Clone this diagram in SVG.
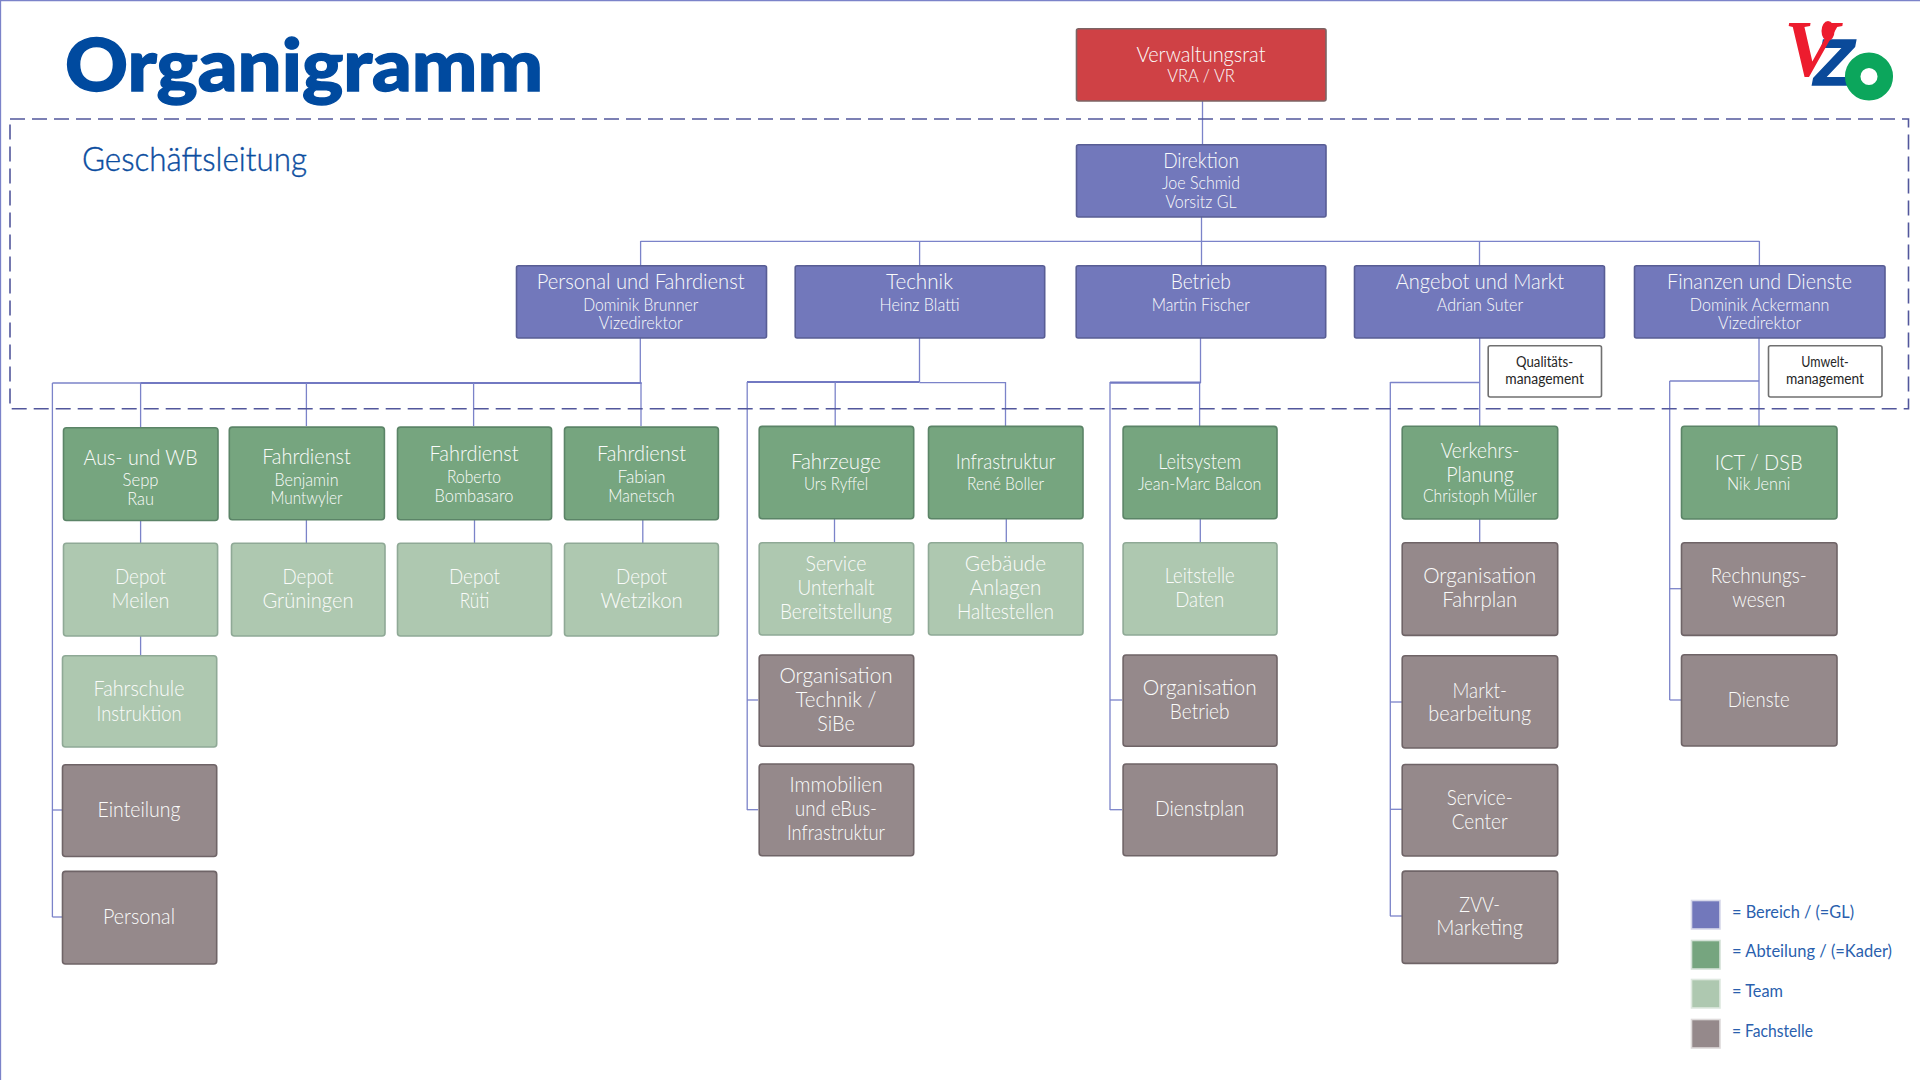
<svg xmlns="http://www.w3.org/2000/svg" width="1920" height="1080" viewBox="0 0 1920 1080">
<style>
text{font-family:"Lato","Liberation Sans",sans-serif;text-anchor:middle;fill:#fbfcfb}
.t{font-size:22px;font-weight:300}
.s{font-size:17.5px;font-weight:300}
.m{font-size:14.5px;fill:#262626;font-weight:400}
.l{font-size:17.5px;fill:#2a5fae;text-anchor:start}
rect{stroke-width:1.6}
.r{fill:#cf4145;stroke:#7c6464}
.p{fill:#7278bb;stroke:#585d94}
.g{fill:#76a57f;stroke:#5b8467}
.h{fill:#aec8b0;stroke:#8fa996}
.f{fill:#95898b;stroke:#6f6467}
.w{fill:#fff;stroke:#707070}
.c line{stroke:#7b83c9;stroke-width:1.3}
.c .k{stroke-width:2.2;stroke:#7279c2}
</style>
<rect width="1920" height="1080" fill="#fff" stroke="none"/>
<g class="c" id="page-edge"><line x1="0" y1="0.5" x2="1920" y2="0.5"/><line x1="0.5" y1="0" x2="0.5" y2="1080"/></g>
<text x="304" y="91" style="font-size:72px;font-weight:900;fill:#004a9f;stroke:#004a9f;stroke-width:1.4" textLength="478" lengthAdjust="spacingAndGlyphs">Organigramm</text>
<text x="194.5" y="171" style="font-size:33px;font-weight:300;fill:#0b4d9f;stroke:#0b4d9f;stroke-width:0.4" textLength="225" lengthAdjust="spacingAndGlyphs">Geschäftsleitung</text>
<g id="logo">
<text style="text-anchor:start;font-weight:700;font-style:italic"><tspan x="1814" y="85" style="font-family:'Liberation Sans',sans-serif;font-size:65px;fill:#0a4a9a;stroke:#0a4a9a;stroke-width:1.5">Z</tspan><tspan x="1784" y="76" style="font-family:'Liberation Serif',serif;font-size:80px;fill:#ed1c2e">V</tspan></text>
<ellipse cx="1828" cy="31" rx="6.5" ry="10" fill="#ed1c2e"/>
<circle cx="1869" cy="76.5" r="16.3" fill="none" stroke="#0ca65c" stroke-width="15.5"/>
</g>
<g class="c" id="connectors">
<line x1="1202.5" y1="101" x2="1202.5" y2="144"/>
<line x1="1201.5" y1="217" x2="1201.5" y2="265"/>
<line x1="640.6" y1="241.3" x2="1759.4" y2="241.3"/>
<line x1="640.6" y1="241" x2="640.6" y2="265"/>
<line x1="919.6" y1="241" x2="919.6" y2="265"/>
<line x1="1479.5" y1="241" x2="1479.5" y2="265"/>
<line x1="1759.4" y1="241" x2="1759.4" y2="265"/>
<line x1="640.3" y1="338" x2="640.3" y2="383"/>
<line x1="52.4" y1="383" x2="641.5" y2="383"/>
<line class="k" x1="140.6" y1="383" x2="641.5" y2="383"/>
<line x1="52.4" y1="383" x2="52.4" y2="917"/>
<line x1="52.4" y1="810" x2="62" y2="810"/>
<line x1="52.4" y1="917" x2="62" y2="917"/>
<line x1="140.6" y1="383" x2="140.6" y2="427"/>
<line x1="306.4" y1="383" x2="306.4" y2="426"/>
<line x1="473.6" y1="383" x2="473.6" y2="426"/>
<line x1="641" y1="383" x2="641" y2="426"/>
<line x1="140.6" y1="521" x2="140.6" y2="543"/>
<line x1="140.6" y1="636" x2="140.6" y2="655"/>
<line x1="306.4" y1="520" x2="306.4" y2="543"/>
<line x1="474.5" y1="520" x2="474.5" y2="543"/>
<line x1="642.8" y1="520" x2="642.8" y2="543"/>
<line x1="919.5" y1="338" x2="919.5" y2="382"/>
<line class="k" x1="747" y1="382" x2="919.5" y2="382"/>
<line x1="919.5" y1="382.7" x2="1005.5" y2="382.7"/>
<line x1="835.2" y1="382" x2="835.2" y2="426"/>
<line x1="1005.5" y1="382" x2="1005.5" y2="426"/>
<line x1="747.2" y1="382" x2="747.2" y2="810"/>
<line x1="747" y1="700" x2="758" y2="700"/>
<line x1="747" y1="809.7" x2="758" y2="809.7"/>
<line x1="834.5" y1="519" x2="834.5" y2="542"/>
<line x1="1006.3" y1="519" x2="1006.3" y2="542"/>
<line x1="1200.5" y1="338" x2="1200.5" y2="383"/>
<line class="k" x1="1110" y1="382.7" x2="1200.5" y2="382.7"/>
<line x1="1199.6" y1="383" x2="1199.6" y2="426"/>
<line x1="1110" y1="382" x2="1110" y2="810"/>
<line x1="1110" y1="700" x2="1122" y2="700"/>
<line x1="1110" y1="809.7" x2="1122" y2="809.7"/>
<line x1="1200.3" y1="519" x2="1200.3" y2="542"/>
<line x1="1479.7" y1="338" x2="1479.7" y2="426"/>
<line x1="1390.3" y1="382.5" x2="1479.7" y2="382.5"/>
<line x1="1390.3" y1="382" x2="1390.3" y2="916"/>
<line x1="1390" y1="702" x2="1402" y2="702"/>
<line x1="1390" y1="809.3" x2="1402" y2="809.3"/>
<line x1="1390" y1="916" x2="1402" y2="916"/>
<line x1="1479.7" y1="519" x2="1479.7" y2="542"/>
<line x1="1759" y1="338" x2="1759" y2="426"/>
<line x1="1669.7" y1="381" x2="1759" y2="381"/>
<line x1="1669.7" y1="381" x2="1669.7" y2="700"/>
<line x1="1669.7" y1="588.7" x2="1681" y2="588.7"/>
<line x1="1669.7" y1="700" x2="1681" y2="700"/>
</g>
<rect id="geschaeftsleitung-frame" x="10" y="119" width="1898.5" height="289.7" fill="none" stroke="#52579c" stroke-width="2.6" stroke-dasharray="15 7"/>

<g id="verwaltungsrat"><rect class="r" x="1076.5" y="28.7" width="249.5" height="72.3" rx="2"/><text class="t" x="1201" y="61.7" textLength="129" lengthAdjust="spacingAndGlyphs">Verwaltungsrat</text><text class="s" x="1201" y="82" textLength="67.5" lengthAdjust="spacingAndGlyphs">VRA / VR</text></g>
<g id="direktion"><rect class="p" x="1076.5" y="144.7" width="249.5" height="72.3" rx="2"/><text class="t" x="1201" y="167.7" textLength="75.7" lengthAdjust="spacingAndGlyphs">Direktion</text><text class="s" x="1201" y="188.7" textLength="78" lengthAdjust="spacingAndGlyphs">Joe Schmid</text><text class="s" x="1201" y="207.7" textLength="71" lengthAdjust="spacingAndGlyphs">Vorsitz GL</text></g>
<g id="personal-fahrdienst"><rect class="p" x="516.5" y="265.7" width="250" height="72.3" rx="2"/><text class="t" x="640.7" y="288.7" textLength="208" lengthAdjust="spacingAndGlyphs">Personal und Fahrdienst</text><text class="s" x="640.7" y="310.7" textLength="115" lengthAdjust="spacingAndGlyphs">Dominik Brunner</text><text class="s" x="640.7" y="329.3" textLength="84" lengthAdjust="spacingAndGlyphs">Vizedirektor</text></g>
<g id="technik"><rect class="p" x="795.2" y="265.7" width="249.5" height="72.3" rx="2"/><text class="t" x="919.5" y="288.7" textLength="67" lengthAdjust="spacingAndGlyphs">Technik</text><text class="s" x="919.5" y="310.7" textLength="80" lengthAdjust="spacingAndGlyphs">Heinz Blatti</text></g>
<g id="betrieb"><rect class="p" x="1076.2" y="265.7" width="249.5" height="72.3" rx="2"/><text class="t" x="1200.7" y="288.7" textLength="60" lengthAdjust="spacingAndGlyphs">Betrieb</text><text class="s" x="1200.7" y="310.7" textLength="98" lengthAdjust="spacingAndGlyphs">Martin Fischer</text></g>
<g id="angebot-markt"><rect class="p" x="1354.5" y="265.7" width="250" height="72.3" rx="2"/><text class="t" x="1480" y="288.7" textLength="168.4" lengthAdjust="spacingAndGlyphs">Angebot und Markt</text><text class="s" x="1480" y="310.7" textLength="86.3" lengthAdjust="spacingAndGlyphs">Adrian Suter</text></g>
<g id="finanzen-dienste"><rect class="p" x="1634.5" y="265.7" width="250.5" height="72.3" rx="2"/><text class="t" x="1759.6" y="288.7" textLength="185" lengthAdjust="spacingAndGlyphs">Finanzen und Dienste</text><text class="s" x="1759.6" y="310.7" textLength="139.7" lengthAdjust="spacingAndGlyphs">Dominik Ackermann</text><text class="s" x="1759.6" y="329.3" textLength="83.3" lengthAdjust="spacingAndGlyphs">Vizedirektor</text></g>
<g id="qualitaetsmanagement"><rect class="w" x="1488.2" y="345.7" width="113.3" height="51.3" rx="2"/><text class="m" x="1544.6" y="367" textLength="57" lengthAdjust="spacingAndGlyphs">Qualitäts-</text><text class="m" x="1544.6" y="384" textLength="78.6" lengthAdjust="spacingAndGlyphs">management</text></g>
<g id="umweltmanagement"><rect class="w" x="1768.5" y="345.7" width="113.5" height="51.3" rx="2"/><text class="m" x="1825" y="367" textLength="47.5" lengthAdjust="spacingAndGlyphs">Umwelt-</text><text class="m" x="1825" y="384" textLength="78" lengthAdjust="spacingAndGlyphs">management</text></g>

<g id="aus-wb"><rect class="g" x="63.5" y="427.7" width="154.5" height="92.8" rx="3"/><text class="t" x="140.6" y="464.7" textLength="114" lengthAdjust="spacingAndGlyphs">Aus- und WB</text><text class="s" x="140.6" y="485.7" textLength="36" lengthAdjust="spacingAndGlyphs">Sepp</text><text class="s" x="140.6" y="505" textLength="26.7" lengthAdjust="spacingAndGlyphs">Rau</text></g>
<g id="fahrdienst-muntwyler"><rect class="g" x="229.3" y="427.1" width="155.1" height="92.6" rx="3"/><text class="t" x="306.5" y="464" textLength="88.7" lengthAdjust="spacingAndGlyphs">Fahrdienst</text><text class="s" x="306.5" y="485.7" textLength="64" lengthAdjust="spacingAndGlyphs">Benjamin</text><text class="s" x="306.5" y="504.3" textLength="72" lengthAdjust="spacingAndGlyphs">Muntwyler</text></g>
<g id="fahrdienst-bombasaro"><rect class="g" x="397.5" y="427.1" width="154.1" height="92.6" rx="3"/><text class="t" x="474" y="461" textLength="89" lengthAdjust="spacingAndGlyphs">Fahrdienst</text><text class="s" x="474" y="482.5" textLength="54" lengthAdjust="spacingAndGlyphs">Roberto</text><text class="s" x="474" y="501.5" textLength="79" lengthAdjust="spacingAndGlyphs">Bombasaro</text></g>
<g id="fahrdienst-manetsch"><rect class="g" x="564.5" y="427.1" width="153.9" height="92.6" rx="3"/><text class="t" x="641.5" y="461" textLength="89" lengthAdjust="spacingAndGlyphs">Fahrdienst</text><text class="s" x="641.5" y="482.5" textLength="48" lengthAdjust="spacingAndGlyphs">Fabian</text><text class="s" x="641.5" y="501.5" textLength="66.4" lengthAdjust="spacingAndGlyphs">Manetsch</text></g>
<g id="depot-meilen"><rect class="h" x="63.5" y="543.3" width="154.1" height="92.7" rx="3"/><text class="t" x="140.5" y="584" textLength="51" lengthAdjust="spacingAndGlyphs">Depot</text><text class="t" x="140.5" y="608" textLength="58" lengthAdjust="spacingAndGlyphs">Meilen</text></g>
<g id="depot-grueningen"><rect class="h" x="231.5" y="543.3" width="153.5" height="92.7" rx="3"/><text class="t" x="308" y="584" textLength="51" lengthAdjust="spacingAndGlyphs">Depot</text><text class="t" x="308" y="608" textLength="91" lengthAdjust="spacingAndGlyphs">Grüningen</text></g>
<g id="depot-rueti"><rect class="h" x="397.5" y="543.3" width="154.1" height="92.7" rx="3"/><text class="t" x="474.5" y="584" textLength="51" lengthAdjust="spacingAndGlyphs">Depot</text><text class="t" x="474.5" y="608" textLength="29.6" lengthAdjust="spacingAndGlyphs">Rüti</text></g>
<g id="depot-wetzikon"><rect class="h" x="564.5" y="543.3" width="153.9" height="92.7" rx="3"/><text class="t" x="641.6" y="584" textLength="51" lengthAdjust="spacingAndGlyphs">Depot</text><text class="t" x="641.6" y="608" textLength="82.4" lengthAdjust="spacingAndGlyphs">Wetzikon</text></g>
<g id="fahrschule"><rect class="h" x="62.5" y="655.7" width="154.2" height="91.3" rx="3"/><text class="t" x="139" y="696.4" textLength="91" lengthAdjust="spacingAndGlyphs">Fahrschule</text><text class="t" x="139" y="720.5" textLength="85" lengthAdjust="spacingAndGlyphs">Instruktion</text></g>
<g id="einteilung"><rect class="f" x="62.5" y="764.7" width="154.2" height="91.8" rx="3"/><text class="t" x="139" y="817.3" textLength="83" lengthAdjust="spacingAndGlyphs">Einteilung</text></g>
<g id="personal"><rect class="f" x="62.5" y="871.4" width="154.2" height="92.6" rx="3"/><text class="t" x="139" y="924.4" textLength="72" lengthAdjust="spacingAndGlyphs">Personal</text></g>

<g id="fahrzeuge"><rect class="g" x="759.2" y="426.4" width="154.5" height="92.3" rx="3"/><text class="t" x="836" y="469.3" textLength="90" lengthAdjust="spacingAndGlyphs">Fahrzeuge</text><text class="s" x="836" y="490" textLength="64" lengthAdjust="spacingAndGlyphs">Urs Ryffel</text></g>
<g id="infrastruktur"><rect class="g" x="928.5" y="426.4" width="154.5" height="92.3" rx="3"/><text class="t" x="1005.5" y="469.3" textLength="99.5" lengthAdjust="spacingAndGlyphs">Infrastruktur</text><text class="s" x="1005.5" y="490" textLength="77" lengthAdjust="spacingAndGlyphs">René Boller</text></g>
<g id="service-unterhalt"><rect class="h" x="759.2" y="542.7" width="154.5" height="92.3" rx="3"/><text class="t" x="836" y="571.3" textLength="61" lengthAdjust="spacingAndGlyphs">Service</text><text class="t" x="836" y="595.3" textLength="77" lengthAdjust="spacingAndGlyphs">Unterhalt</text><text class="t" x="836" y="619.3" textLength="112" lengthAdjust="spacingAndGlyphs">Bereitstellung</text></g>
<g id="gebaeude-anlagen"><rect class="h" x="928.5" y="542.7" width="154.5" height="92.3" rx="3"/><text class="t" x="1005.5" y="571.3" textLength="81.5" lengthAdjust="spacingAndGlyphs">Gebäude</text><text class="t" x="1005.5" y="595.3" textLength="71.6" lengthAdjust="spacingAndGlyphs">Anlagen</text><text class="t" x="1005.5" y="619.3" textLength="97" lengthAdjust="spacingAndGlyphs">Haltestellen</text></g>
<g id="organisation-technik"><rect class="f" x="759.2" y="655" width="154.5" height="91.3" rx="3"/><text class="t" x="836" y="682.7" textLength="113" lengthAdjust="spacingAndGlyphs">Organisation</text><text class="t" x="836" y="706.7" textLength="81" lengthAdjust="spacingAndGlyphs">Technik /</text><text class="t" x="836" y="730.7" textLength="37.5" lengthAdjust="spacingAndGlyphs">SiBe</text></g>
<g id="immobilien"><rect class="f" x="759.2" y="764" width="154.5" height="91.7" rx="3"/><text class="t" x="836" y="792.3" textLength="93" lengthAdjust="spacingAndGlyphs">Immobilien</text><text class="t" x="836" y="816.3" textLength="82" lengthAdjust="spacingAndGlyphs">und eBus-</text><text class="t" x="836" y="840" textLength="98" lengthAdjust="spacingAndGlyphs">Infrastruktur</text></g>

<g id="leitsystem"><rect class="g" x="1123.1" y="426.4" width="153.9" height="92.3" rx="3"/><text class="t" x="1199.7" y="469.3" textLength="83" lengthAdjust="spacingAndGlyphs">Leitsystem</text><text class="s" x="1199.7" y="490" textLength="123.6" lengthAdjust="spacingAndGlyphs">Jean-Marc Balcon</text></g>
<g id="leitstelle"><rect class="h" x="1123.1" y="542.7" width="153.9" height="92.3" rx="3"/><text class="t" x="1199.7" y="582.7" textLength="70" lengthAdjust="spacingAndGlyphs">Leitstelle</text><text class="t" x="1199.7" y="606.7" textLength="49" lengthAdjust="spacingAndGlyphs">Daten</text></g>
<g id="organisation-betrieb"><rect class="f" x="1123.1" y="655" width="153.9" height="91.3" rx="3"/><text class="t" x="1199.7" y="695" textLength="114" lengthAdjust="spacingAndGlyphs">Organisation</text><text class="t" x="1199.7" y="719" textLength="59.7" lengthAdjust="spacingAndGlyphs">Betrieb</text></g>
<g id="dienstplan"><rect class="f" x="1123.1" y="764" width="153.9" height="91.7" rx="3"/><text class="t" x="1199.7" y="816" textLength="89.5" lengthAdjust="spacingAndGlyphs">Dienstplan</text></g>

<g id="verkehrsplanung"><rect class="g" x="1402.2" y="426.3" width="155.5" height="92.7" rx="3"/><text class="t" x="1480" y="457.5" textLength="78.7" lengthAdjust="spacingAndGlyphs">Verkehrs-</text><text class="t" x="1480" y="481.7" textLength="67.7" lengthAdjust="spacingAndGlyphs">Planung</text><text class="s" x="1480" y="502.3" textLength="114" lengthAdjust="spacingAndGlyphs">Christoph Müller</text></g>
<g id="organisation-fahrplan"><rect class="f" x="1402.2" y="542.7" width="155.5" height="92.7" rx="3"/><text class="t" x="1479.7" y="583.2" textLength="113" lengthAdjust="spacingAndGlyphs">Organisation</text><text class="t" x="1479.7" y="607.4" textLength="75" lengthAdjust="spacingAndGlyphs">Fahrplan</text></g>
<g id="marktbearbeitung"><rect class="f" x="1402.2" y="655.7" width="155.5" height="92.3" rx="3"/><text class="t" x="1479.7" y="697.6" textLength="54.3" lengthAdjust="spacingAndGlyphs">Markt-</text><text class="t" x="1479.7" y="721.4" textLength="102.7" lengthAdjust="spacingAndGlyphs">bearbeitung</text></g>
<g id="service-center"><rect class="f" x="1402.2" y="764.5" width="155.5" height="91.5" rx="3"/><text class="t" x="1479.7" y="805" textLength="66" lengthAdjust="spacingAndGlyphs">Service-</text><text class="t" x="1479.7" y="829" textLength="56" lengthAdjust="spacingAndGlyphs">Center</text></g>
<g id="zvv-marketing"><rect class="f" x="1402.2" y="871.1" width="155.5" height="92.3" rx="3"/><text class="t" x="1479.7" y="911.6" textLength="40.7" lengthAdjust="spacingAndGlyphs">ZVV-</text><text class="t" x="1479.7" y="935.4" textLength="86.7" lengthAdjust="spacingAndGlyphs">Marketing</text></g>

<g id="ict-dsb"><rect class="g" x="1681.5" y="426.3" width="155.5" height="92.7" rx="3"/><text class="t" x="1758.7" y="470.4" textLength="87.7" lengthAdjust="spacingAndGlyphs">ICT / DSB</text><text class="s" x="1758.7" y="489.8" textLength="63.3" lengthAdjust="spacingAndGlyphs">Nik Jenni</text></g>
<g id="rechnungswesen"><rect class="f" x="1681.5" y="542.7" width="155.5" height="92.7" rx="3"/><text class="t" x="1758.7" y="583" textLength="96" lengthAdjust="spacingAndGlyphs">Rechnungs-</text><text class="t" x="1758.7" y="607.4" textLength="53" lengthAdjust="spacingAndGlyphs">wesen</text></g>
<g id="dienste"><rect class="f" x="1681.5" y="654.7" width="155.5" height="91.3" rx="3"/><text class="t" x="1758.7" y="707" textLength="61.7" lengthAdjust="spacingAndGlyphs">Dienste</text></g>

<g id="legend">
<rect x="1691.5" y="900.5" width="28.5" height="28.5" fill="#7278bb" stroke="#d8d9ea" stroke-width="1"/>
<rect x="1691.5" y="940.5" width="28.5" height="28.5" fill="#76a57f" stroke="#d5e2d8" stroke-width="1"/>
<rect x="1691.5" y="979.5" width="28.5" height="28.5" fill="#aec8b0" stroke="#dfe9e0" stroke-width="1"/>
<rect x="1691.5" y="1019.5" width="28.5" height="28.5" fill="#95898b" stroke="#dedada" stroke-width="1"/>
<text class="l" x="1732" y="918" textLength="122" lengthAdjust="spacingAndGlyphs">= Bereich / (=GL)</text>
<text class="l" x="1732" y="957" textLength="160" lengthAdjust="spacingAndGlyphs">= Abteilung / (=Kader)</text>
<text class="l" x="1732" y="997" textLength="51" lengthAdjust="spacingAndGlyphs">= Team</text>
<text class="l" x="1732" y="1037" textLength="81" lengthAdjust="spacingAndGlyphs">= Fachstelle</text>
</g>
</svg>
